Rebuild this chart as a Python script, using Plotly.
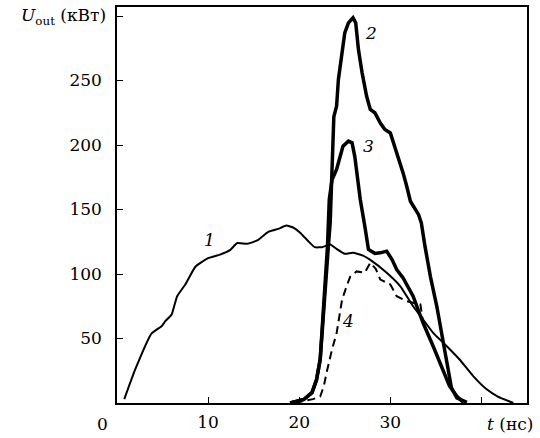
import plotly.graph_objects as go

# Curve 1 (thin)
t1 = [0.8, 2.0, 3.8, 4.9, 5.3, 6.0, 6.6, 7.5, 8.6, 9.9, 11.3, 12.4, 13.2, 14.3, 15.4, 16.6, 17.7, 18.6,
      19.4, 20.1, 21.0, 21.7, 22.5, 23.4, 24.1, 25.0, 25.9, 27.0, 27.8, 29.6, 31.1, 32.5, 33.6, 34.7,
      36.2, 37.6, 39.1, 40.5, 41.8, 43.5]
p1 = [3, 26, 54, 59.5, 63.4, 68.6, 82.8, 91.9, 105.6, 112, 115, 118.5, 124, 123.4, 126, 132.7, 135, 137.6,
      135.8, 132, 125.4, 120.8, 120.8, 122.9, 119.5, 115.7, 116.4, 114.3, 111, 101, 90.5, 75, 64.7, 54.4,
      44, 33.7, 20.8, 11, 5, 0]

# Curve 2 (thick)
t2 = [19.0, 20.5, 21.4, 21.9, 22.3, 22.5, 22.7, 22.9, 23.2, 23.4, 23.5, 23.6, 23.8, 24.1, 24.3, 24.7, 25.0,
      25.4, 25.9, 26.2, 26.5, 26.9, 27.4, 27.8, 28.3, 28.9, 29.4, 30.0, 30.3, 30.9, 31.4, 31.8, 32.2, 33.1,
      33.4, 33.8, 34.4, 35.1, 35.8, 36.4, 36.7, 37.3, 38.4]
p2 = [0, 2.7, 8, 18, 33.7, 54, 80, 100, 121.6, 140, 160, 196.5, 222, 230, 250.8, 271.5, 287,
      294.7, 298.6, 294.7, 274, 256, 237.8, 227.5, 225, 217, 212, 209.4, 203, 188.8, 178.4, 168, 156.4, 146,
      139.7, 121.6, 98, 75, 49, 26, 12, 4, 0.5]

# Curve 3 (thick)
t3 = [19.0, 20.5, 21.4, 21.9, 22.3, 22.5, 22.7, 22.9, 23.1, 23.3, 23.6, 24.1, 24.5, 24.8, 25.4, 25.8, 26.1,
      26.4, 26.7, 27.2, 27.6, 28.3, 28.9, 29.6, 30.2, 30.7, 31.4, 32.5, 33.6, 34.7, 35.8, 36.5, 37.3, 38.0]
p3 = [0, 2.7, 8, 18, 33.7, 54, 80, 100, 121.6, 157.8, 173, 181, 191, 199, 203, 201.7, 191,
      173, 157.8, 137, 119, 116, 116.4, 117.7, 111, 103.5, 97, 82.8, 62, 44, 26, 13, 5.3, 0.5]

# Curve 4 (dashed)
t4 = [19.5, 21.5, 22.3, 22.7, 23.0, 23.6, 24.1, 24.7, 25.2, 25.6, 26.3, 27.2, 27.8, 28.4, 28.9, 30.0,
      30.7, 31.8, 32.6, 33.3, 33.5, 33.7]
p4 = [0, 3, 5, 13, 23.4, 41.5, 54, 80, 90.5, 98, 102, 101, 108.7, 104, 95.7, 91.9,
      82.8, 79, 77.5, 76.4, 67, 58]

curve_labels = ["1", "2", "3", "4"]
label_t = [10.1, 27.9, 27.6, 25.4]
label_p = [126.7, 287, 199, 63.4]

x_ticks = [10, 20, 30]
x_ticktext = ["10", "20", "30"]
x_minor = [40]
y_ticks = [50, 100, 150, 200, 250]
y_ticktext = ["50", "100", "150", "200", "250"]
y_minor = [300]

FONT = "DejaVu Serif"
FS = 17
tickfont = dict(family=FONT, size=FS, color="black")

fig = go.Figure()
fig.add_trace(go.Scatter(x=t1, y=p1, mode="lines", line=dict(color="black", width=2, shape="spline", smoothing=0.4)))
fig.add_trace(go.Scatter(x=t2, y=p2, mode="lines", line=dict(color="black", width=3.5)))
fig.add_trace(go.Scatter(x=t3, y=p3, mode="lines", line=dict(color="black", width=3.5)))
fig.add_trace(go.Scatter(x=t4, y=p4, mode="lines", line=dict(color="black", width=2, dash="8px,5px")))

for lab, xt, yp in zip(curve_labels, label_t, label_p):
    fig.add_annotation(x=xt, y=yp, text="<i>" + lab + "</i>", showarrow=False,
                       font=dict(family=FONT, size=17, color="black"))

fig.add_annotation(xref="paper", x=-0.022, yref="y", y=300, xanchor="right", yanchor="middle",
                   text="<i>U</i><sub>out</sub> (кВт)", showarrow=False,
                   font=dict(family=FONT, size=FS, color="black"))
fig.add_annotation(xref="paper", x=1.0195, yref="paper", y=-0.054, xanchor="right", yanchor="middle",
                   text="<i>t</i> (нс)", showarrow=False,
                   font=dict(family=FONT, size=FS, color="black"))
fig.add_annotation(xref="paper", x=-0.035, yref="paper", y=-0.054, xanchor="center", yanchor="middle",
                   text="0", showarrow=False,
                   font=dict(family=FONT, size=FS, color="black"))

fig.update_layout(
    width=540, height=438,
    margin=dict(l=117, r=13, t=7, b=35),
    paper_bgcolor="white", plot_bgcolor="white",
    showlegend=False,
    font=dict(family=FONT, size=FS, color="black"),
)
fig.update_xaxes(range=[0, 45], tickvals=x_ticks, ticktext=x_ticktext, ticks="inside", ticklen=6,
                 tickwidth=1.2, tickcolor="black", showline=True, mirror=True, linecolor="black",
                 linewidth=1.5, showgrid=False, zeroline=False, automargin=False, tickfont=tickfont,
                 ticklabelstandoff=3,
                 minor=dict(tickvals=x_minor, ticks="inside", ticklen=6, tickwidth=1.2, tickcolor="black", showgrid=False))
fig.update_yaxes(range=[0, 307], tickvals=y_ticks, ticktext=y_ticktext, ticks="inside", ticklen=6,
                 tickwidth=1.2, tickcolor="black", showline=True, mirror=True, linecolor="black",
                 linewidth=1.5, showgrid=False, zeroline=False, automargin=False, ticklabelstandoff=10,
                 tickfont=tickfont,
                 minor=dict(tickvals=y_minor, ticks="inside", ticklen=6, tickwidth=1.2, tickcolor="black", showgrid=False))

# remove the browser's default 8px body margin so the figure sits at the page's top-left corner
fig.write_html("out.html", config={"displayModeBar": False},
               post_script="document.body.style.margin='0px';")
